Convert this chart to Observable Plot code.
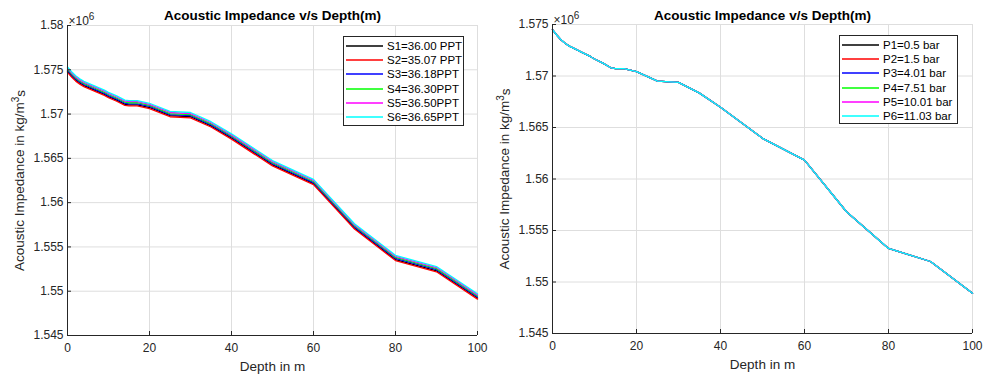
<!DOCTYPE html>
<html><head><meta charset="utf-8">
<script src="https://cdn.jsdelivr.net/npm/d3@7"></script>
<script src="https://cdn.jsdelivr.net/npm/@observablehq/plot@0.6"></script>
<style>
body{margin:0;background:#fff;font-family:"Liberation Sans",Arial,sans-serif;}
#wrap{position:relative;width:985px;height:379px;overflow:hidden;}
.panel{position:absolute;top:0;}
.legend{position:absolute;background:#fff;border:1px solid #262626;box-sizing:border-box;padding-top:2px;font-size:11.5px;color:#000;}
.legend .row{height:14.2px;display:flex;align-items:center;white-space:nowrap;}
.legend svg{display:block;margin-left:2px;margin-right:4px;}
</style></head>
<body><div id="wrap"></div>
<script>
// ---- data (acoustic impedance in units of 10^6 kg/m^3 s) ----
const depths = [0,1,2,3,4,5,7,9,10,12,14,15,17,20,25,30,35,40,50,60,70,80,90,100];

const s1 = [1.57483,1.57430,1.57384,1.57350,1.57322,1.57302,1.57262,1.57222,1.57197,1.57157,1.57110,1.57104,1.57104,1.57074,1.56982,1.56970,1.56866,1.56729,1.56427,1.56215,1.55714,1.55358,1.55231,1.54923];
const s2 = [1.57471,1.57418,1.57372,1.57338,1.57310,1.57290,1.57250,1.57210,1.57185,1.57145,1.57098,1.57092,1.57092,1.57062,1.56970,1.56958,1.56854,1.56717,1.56415,1.56203,1.55702,1.55346,1.55219,1.54911];
const s3 = [1.57495,1.57442,1.57396,1.57362,1.57334,1.57314,1.57274,1.57234,1.57209,1.57169,1.57122,1.57116,1.57116,1.57086,1.56994,1.56982,1.56878,1.56741,1.56439,1.56227,1.55726,1.55370,1.55243,1.54935];
const s4 = [1.57507,1.57454,1.57408,1.57374,1.57346,1.57326,1.57286,1.57246,1.57221,1.57181,1.57134,1.57128,1.57128,1.57098,1.57006,1.56994,1.56890,1.56753,1.56451,1.56239,1.55738,1.55382,1.55255,1.54947];
const s5 = [1.57519,1.57466,1.57420,1.57386,1.57358,1.57338,1.57298,1.57258,1.57233,1.57193,1.57146,1.57140,1.57140,1.57110,1.57018,1.57006,1.56902,1.56765,1.56463,1.56251,1.55750,1.55394,1.55267,1.54959];
const s6 = [1.57531,1.57478,1.57432,1.57398,1.57370,1.57350,1.57310,1.57270,1.57245,1.57205,1.57158,1.57152,1.57152,1.57122,1.57030,1.57018,1.56914,1.56777,1.56475,1.56263,1.55762,1.55406,1.55279,1.54971];

// the six pressure curves overlap completely in the picture
const pressureImpedance = [1.57451,1.57398,1.57352,1.57318,1.57290,1.57270,1.57230,1.57190,1.57165,1.57125,1.57078,1.57072,1.57072,1.57042,1.56950,1.56938,1.56834,1.56697,1.56395,1.56183,1.55682,1.55326,1.55199,1.54891];

const salinityLabels = ["S1=36.00 PPT","S2=35.07 PPT","S3=36.18PPT","S4=36.30PPT","S5=36.50PPT","S6=36.65PPT"];
const pressureLabels = ["P1=0.5 bar","P2=1.5 bar","P3=4.01 bar","P4=7.51 bar","P5=10.01 bar","P6=11.03 bar"];
const seriesColors = ["#000000","#ff0000","#0000ff","#00ff00","#ff00ff","#00ffff"];

const xTicks = [0,20,40,60,80,100];
const yTicksLeft = [1.545,1.55,1.555,1.56,1.565,1.57,1.575,1.58];
const yTicksRight = [1.545,1.55,1.555,1.56,1.565,1.57,1.575];

const titleText = "Acoustic Impedance v/s Depth(m)";
const xLabelText = "Depth in m";
const yLabelBase = "Acoustic Impedance in kg/m";
const yLabelSup = "3";
const yLabelEnd = "s";
const exponentBase = "×10";
const exponentSup = "6";

const FONT = '"Liberation Sans", Arial, Helvetica, sans-serif';
const fmt = d => String(+d.toFixed(3));

function panel({values, labels, yTicks, left, width, marginLeft, marginTop, marginBottom, legendBox}) {
  const marks = [
    Plot.gridX({ticks: xTicks, stroke: "#dedede", strokeOpacity: 1}),
    Plot.gridY({ticks: yTicks, stroke: "#dedede", strokeOpacity: 1}),
    ...values.map((arr, k) => Plot.line(depths.map((d, i) => ({depth: d, value: arr[i]})),
      {x: "depth", y: "value", stroke: seriesColors[k], strokeWidth: 1.3})),
    Plot.ruleX([0], {stroke: "#262626"}),
    Plot.ruleY([yTicks[0]], {stroke: "#262626"}),
    Plot.axisX({ticks: xTicks, tickSize: -4, tickPadding: 12, stroke: "#262626", fill: "#262626", label: null, tickFormat: d => String(d)}),
    Plot.axisY({ticks: yTicks, tickSize: -4, tickPadding: 8, stroke: "#262626", fill: "#262626", label: null, tickFormat: fmt}),
    Plot.text([titleText], {text: d => d, frameAnchor: "top", dy: -(marginTop - 15), lineAnchor: "middle", fontWeight: "bold", fontSize: 13.5, fill: "#000"}),
    Plot.text([xLabelText], {text: d => d, frameAnchor: "bottom", dy: 31, lineAnchor: "middle", fontSize: 13.5, fill: "#262626"}),
    Plot.text([yLabelBase], {text: d => d, frameAnchor: "left", rotate: -90, dx: -48, textAnchor: "middle", lineAnchor: "middle", fontSize: 13.5, fill: "#262626", className: "ylab"}),
    Plot.text([exponentBase], {text: d => d, frameAnchor: "top-left", textAnchor: "start", lineAnchor: "bottom", dy: -1, dx: 1, fontSize: 12, fill: "#262626", className: "expo"})
  ];
  const chart = Plot.plot({
    width, height: 379, marginLeft, marginRight: 13, marginTop, marginBottom,
    x: {domain: [0, 100], label: null},
    y: {domain: [yTicks[0], yTicks[yTicks.length - 1]], label: null},
    style: {fontFamily: FONT, fontSize: "12px", color: "#262626", background: "transparent", overflow: "visible"},
    marks
  });
  // add superscripts as real text (tspans)
  d3.select(chart).selectAll(".ylab text").each(function() {
    const t = d3.select(this);
    t.append("tspan").attr("dy", "-0.45em").attr("font-size", "10px").text(yLabelSup);
    t.append("tspan").attr("dy", "0.45em").text(yLabelEnd);
  });
  d3.select(chart).selectAll(".expo text").each(function() {
    d3.select(this).append("tspan").attr("dy", "-0.5em").attr("font-size", "10px").text(exponentSup);
  });

  const div = document.createElement("div");
  div.className = "panel";
  div.style.left = left + "px";
  div.appendChild(chart);
  document.getElementById("wrap").appendChild(div);

  const lg = document.createElement("div");
  lg.className = "legend";
  Object.assign(lg.style, {left: legendBox.x + "px", top: legendBox.y + "px", width: legendBox.w + "px", height: legendBox.h + "px"});
  labels.forEach((t, k) => {
    const row = document.createElement("div");
    row.className = "row";
    const sw = d3.create("svg").attr("width", 37).attr("height", 6);
    sw.append("line").attr("x1", 0).attr("x2", 37).attr("y1", 3).attr("y2", 3)
      .attr("stroke", seriesColors[k]).attr("stroke-width", 1.4);
    row.appendChild(sw.node());
    row.appendChild(document.createTextNode(t));
    lg.appendChild(row);
  });
  document.getElementById("wrap").appendChild(lg);
}

panel({values: [s1, s2, s3, s4, s5, s6], labels: salinityLabels, yTicks: yTicksLeft,
  left: 0, width: 490, marginLeft: 67, marginTop: 25, marginBottom: 44,
  legendBox: {x: 343, y: 36, w: 121, h: 90}});

panel({values: [pressureImpedance, pressureImpedance, pressureImpedance, pressureImpedance, pressureImpedance, pressureImpedance],
  labels: pressureLabels, yTicks: yTicksRight,
  left: 490, width: 495, marginLeft: 62, marginTop: 24, marginBottom: 46,
  legendBox: {x: 839, y: 35, w: 119, h: 89}});
</script>
</body></html>
